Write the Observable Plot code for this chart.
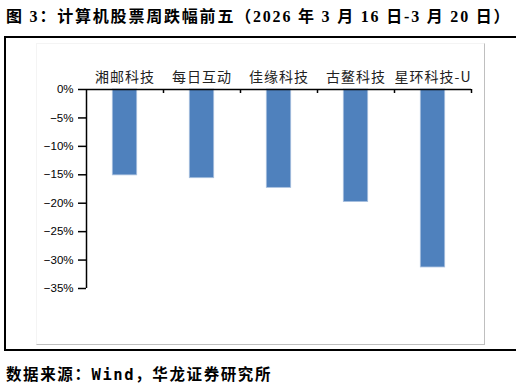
<!DOCTYPE html>
<html>
<head>
<meta charset="utf-8">
<script src="https://cdn.jsdelivr.net/npm/d3@7"></script>
<script src="https://cdn.jsdelivr.net/npm/@observablehq/plot@0.6"></script>
<style>
  body { margin: 0; background: #fff; }
  #wrap { position: relative; width: 521px; height: 389px; overflow: hidden; background: #fff; }
  #title { position: absolute; left: 6px; top: 3px; font-family: "Liberation Serif", "Noto Sans CJK SC", serif; font-weight: bold; font-size: 16px; letter-spacing: 1.8px; color: #000; white-space: nowrap; }
  #foot { position: absolute; left: 6px; top: 362px; font-family: "DejaVu Sans Mono", "Noto Sans CJK SC", monospace; font-weight: bold; font-size: 15.5px; letter-spacing: 1.6px; color: #000; white-space: nowrap; }
  .ln { position: absolute; }
  #chart { position: absolute; left: 0; top: 30px; }
</style>
</head>
<body>
<div id="wrap">
  <div id="title">图 3：计算机股票周跌幅前五（2026 年 3 月 16 日-3 月 20 日）</div>
  <div class="ln" style="left:36px;top:43px;width:447px;height:300px;border-top:1px solid #f4f4f4;border-left:1px solid #f4f4f4;border-right:1px solid #bfbfbf;border-bottom:1px solid #bfbfbf;"></div>
  <div class="ln" style="left:5px;top:36px;width:511px;height:2px;background:#000;"></div>
  <div class="ln" style="left:4px;top:36px;width:2px;height:315px;background:#000;"></div>
  <div class="ln" style="left:5px;top:349px;width:511px;height:2px;background:#000;"></div>
  <div id="chart"></div>
  <div id="foot">数据来源：Wind，华龙证券研究所</div>
</div>
<script>
const categories = ["湘邮科技", "每日互动", "佳缘科技", "古鳌科技", "星环科技-U"];
const changes = [-15.1, -15.6, -17.3, -19.8, -31.3];
const yTicks = [0, -5, -10, -15, -20, -25, -30, -35];

const data = categories.map((c, i) => ({name: c, value: changes[i]}));
const fmt = d => (d < 0 ? "\u2212" : "") + Math.abs(d) + "%";

const chart = Plot.plot({
  width: 521,
  height: 330,
  marginLeft: 86,
  marginRight: 50,
  marginTop: 59,
  marginBottom: 72,
  style: {background: "transparent", overflow: "visible"},
  x: {domain: categories, padding: 0, axis: null, label: null},
  y: {domain: [-35, 0], axis: null, label: null},
  marks: [
    Plot.barY(data, {x: "name", y: "value", fill: "#4f81bd", stroke: "#a9c0df", strokeWidth: 0.8, insetLeft: 26.3, insetRight: 26.3}),
    Plot.ruleY([0], {stroke: "#000", strokeWidth: 1.5}),
    Plot.ruleX(categories, {x: d => d, y1: 0, y2: -0.7, dx: 38.5, stroke: "#000", strokeWidth: 1.5}),
    Plot.axisX({anchor: "top", label: null, tickSize: 0, tickPadding: 8, fontSize: 14, fontFamily: "Noto Sans CJK SC", fill: "#222"}),
    Plot.axisY({anchor: "left", label: null, ticks: yTicks, tickFormat: fmt, tickSize: 8, tickPadding: 5, fontSize: 11.5, fontFamily: "Liberation Sans", fill: "#000", strokeWidth: 1.5}),
    Plot.ruleX(categories.slice(0, 1), {x: d => d, y1: 0, y2: -35, dx: -38.5, stroke: "#000", strokeWidth: 1.5})
  ]
});
chart.querySelectorAll('[aria-label="x-axis tick label"] text').forEach(t => t.setAttribute("letter-spacing", "1"));
document.getElementById("chart").appendChild(chart);
</script>
</body>
</html>
